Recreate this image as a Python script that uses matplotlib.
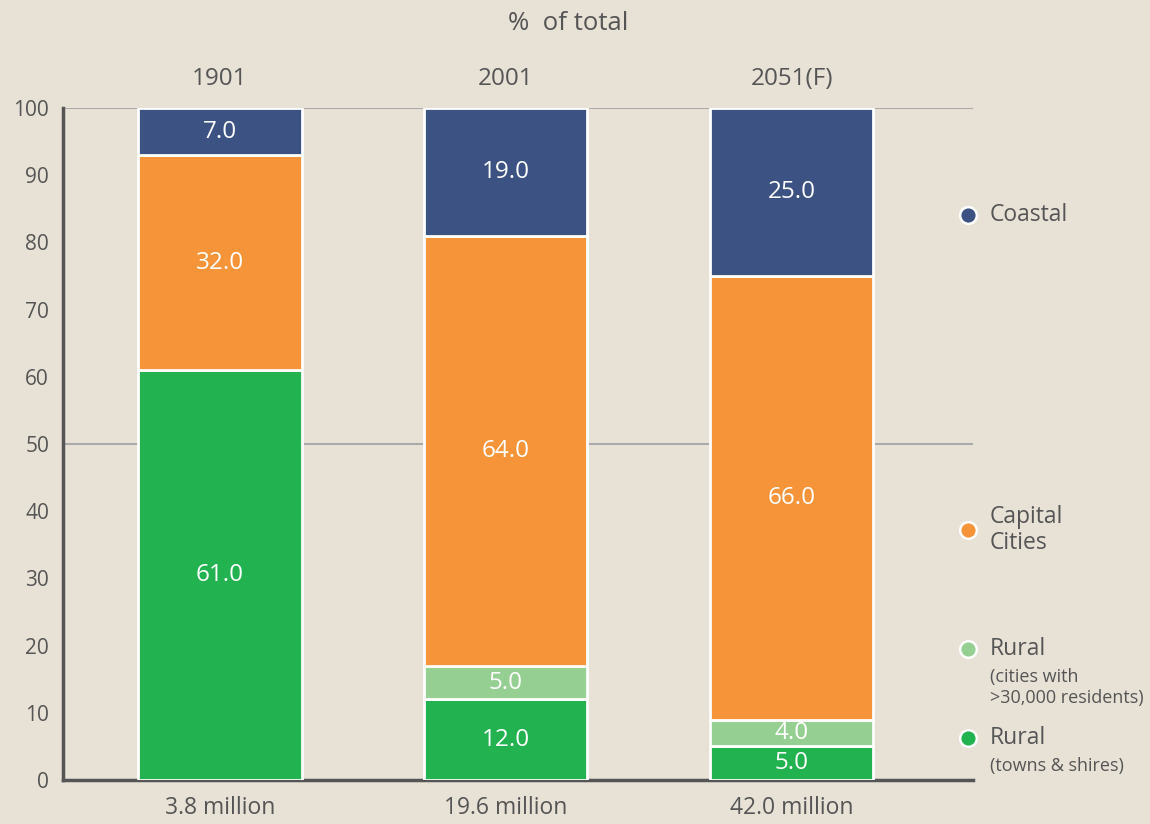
import matplotlib
matplotlib.use("Agg")
import matplotlib.pyplot as plt
import numpy as np

plt.rcParams['font.family'] = ['Open Sans', 'DejaVu Sans']

years = ["1901", "2001", "2051(F)"]
totals = ["3.8 million", "19.6 million", "42.0 million"]
series_names = ["Rural (towns & shires)", "Rural (cities >30,000)", "Capital Cities", "Coastal"]
rural_towns = [61.0, 12.0, 5.0]
rural_cities = [0.0, 5.0, 4.0]
capital = [32.0, 64.0, 66.0]
coastal = [7.0, 19.0, 25.0]
colors = ["#22b24f", "#96cf92", "#f59438", "#3b5282"]
legend_main = ["Rural", "Rural", "Capital\nCities", "Coastal"]
legend_sub = ["(towns & shires)", "(cities with\n>30,000 residents)", "", ""]
legend_y = [6.3, 19.5, 37.2, 84.1]

bg = "#e8e2d6"
txt = "#555555"

fig = plt.figure(figsize=(11.5, 8.24), dpi=100, facecolor=bg)
ax = fig.add_axes([63/1150, 1-780/824, (973-63)/1150, (780-108)/824])
ax.set_facecolor(bg)

x = np.arange(len(years))
series = [rural_towns, rural_cities, capital, coastal]
bottom = np.zeros(len(years))
for vals, c in zip(series, colors):
    vals = np.array(vals)
    ax.bar(x, vals, bottom=bottom, width=0.57, color=c, edgecolor="white", linewidth=2, zorder=3)
    for xi, v, b in zip(x, vals, bottom):
        if v > 0:
            ax.text(xi, b + v/2, f"{v:.1f}", ha="center", va="center", color="white", fontsize=17.5, zorder=4)
    bottom += vals

ax.set_xlim(-0.549, 2.633)
ax.set_ylim(0, 100)
ax.set_yticks(np.arange(0, 101, 10))
ax.tick_params(axis='y', length=0, labelsize=15, colors=txt, pad=10)
ax.set_xticks([])
for s in ["top", "right"]:
    ax.spines[s].set_visible(False)
for s in ["left", "bottom"]:
    ax.spines[s].set_color("#555555")
    ax.spines[s].set_linewidth(2.5)
for gy in [50, 100]:
    ax.axhline(gy, color="#aaaaaa", linewidth=1.5, zorder=1)

for xi, yr, tot in zip(x, years, totals):
    ax.text(xi, 104.3, yr, ha="center", va="center", fontsize=17.5, color=txt)
    ax.text(xi, -4.1, tot, ha="center", va="center", fontsize=16.5, color=txt, clip_on=False)
fig.text(568/1150, 1-24/824, "%  of total", ha="center", va="center", fontsize=18.5, color=txt)

for name, sub, yv, c in zip(legend_main, legend_sub, legend_y, colors):
    ax.plot([2.615], [yv], marker="o", markersize=12, color=c, markeredgecolor="white",
            markeredgewidth=1.8, clip_on=False, zorder=5)
    ax.text(2.692, yv, name, ha="left", va="center", fontsize=16.5, color=txt, clip_on=False, linespacing=1.1)
    if sub:
        ax.text(2.692, yv - 2.9, sub, ha="left", va="top", fontsize=13, color=txt, clip_on=False, linespacing=1.2)

fig.savefig("out.png", dpi=100, facecolor=bg)
